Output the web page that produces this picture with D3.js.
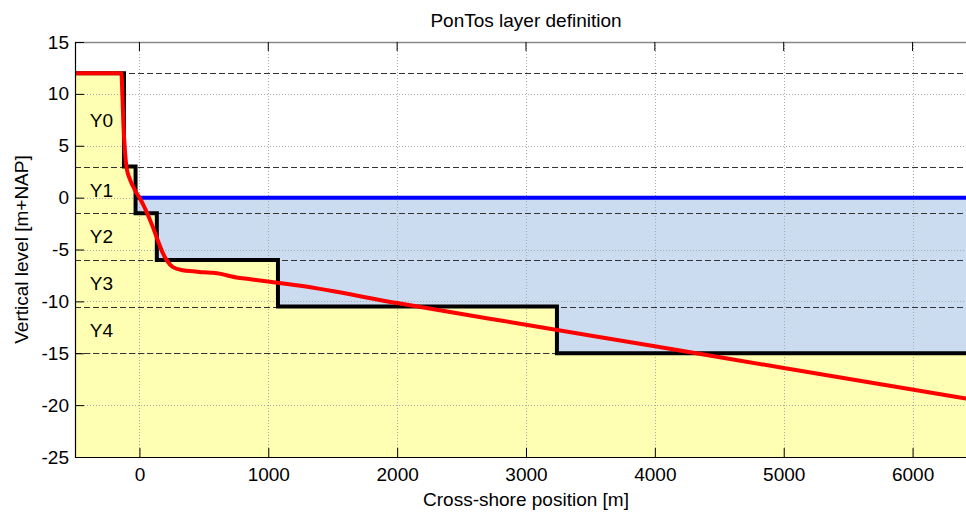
<!DOCTYPE html>
<html>
<head>
<meta charset="utf-8">
<script src="https://cdn.jsdelivr.net/npm/d3@7"></script>
<style>
  html, body { margin: 0; padding: 0; background: #fff; }
  svg text { font-family: Arial, "Liberation Sans", Helvetica, sans-serif; fill: #000; }
</style>
</head>
<body>
<svg id="chart" width="966" height="512"></svg>
<script>
// Bed profile (cross-shore position [m], level [m+NAP])
const profileX = [-500, -140, -132, -124, -115, -101, -75, -50, -23, 0, 30, 60, 100, 142, 180, 210, 260, 337, 420, 500, 570, 630, 700, 753, 850, 1011, 1250, 2000, 3000, 4000, 5000, 6500];
const profileY = [12, 12, 9.8, 7.0, 5.0, 3.0, 1.8, 1.1, 0.44, 0, -0.7, -1.5, -2.7, -4.1, -5.3, -6.0, -6.7, -7.0, -7.1, -7.2, -7.25, -7.35, -7.55, -7.7, -7.85, -8.1, -8.5, -10.16, -12.25, -14.33, -16.42, -19.54];

// Layer schematisation: each layer starts at stepX and holds level stepLevel
const stepX = [-500, -120, -30, 135, 1075, 3240, 6500];
const stepLevel = [12, 3, -1.5, -6, -10.5, -15, -15];
const layerNames = ["Y0", "Y1", "Y2", "Y3", "Y4"];
const layerLabelX = -295;

// Still water level line
const waterLevel = 0;
const waterStartX = -20;

// Axes
const xDomain = [-500, 6500];
const yDomain = [-25, 15];
const xTicks = [0, 1000, 2000, 3000, 4000, 5000, 6000];
const yTicks = [-25, -20, -15, -10, -5, 0, 5, 10, 15];

const titleText = "PonTos layer definition";
const xLabelText = "Cross-shore position [m]";
const yLabelText = "Vertical level [m+NAP]";

const margin = { left: 75, top: 42, right: 977, bottom: 457 };
const svg = d3.select("#chart");

const x = d3.scaleLinear().domain(xDomain).range([margin.left, margin.right]);
const y = d3.scaleLinear().domain(yDomain).range([margin.bottom, margin.top]);

svg.append("defs").append("clipPath").attr("id", "plotclip")
  .append("rect")
  .attr("x", margin.left).attr("y", margin.top)
  .attr("width", margin.right - margin.left).attr("height", margin.bottom - margin.top);

const plot = svg.append("g").attr("clip-path", "url(#plotclip)");

const steps = stepX.map((d, i) => ({ x: d, level: stepLevel[i] }));
const profile = profileX.map((d, i) => ({ x: d, y: profileY[i] }));

// Sediment (yellow) below the layer top
plot.append("path")
  .datum(steps)
  .attr("fill", "#FFFFB3")
  .attr("d", d3.area().curve(d3.curveStepAfter)
    .x(d => x(d.x)).y0(y(yDomain[0])).y1(d => y(d.level)));

// Water (blue) between layer top and still water level
plot.append("path")
  .datum(steps)
  .attr("fill", "#CCDCF0")
  .attr("d", d3.area().curve(d3.curveStepAfter)
    .x(d => x(d.x)).y0(d => y(Math.min(d.level, waterLevel))).y1(y(waterLevel)));

// Dotted grid
const grid = plot.append("g")
  .attr("stroke", "#aaa").attr("stroke-width", 1).attr("stroke-dasharray", "1,2");
grid.selectAll("line.gx").data(xTicks).join("line")
  .attr("x1", d => Math.round(x(d)) + 0.5).attr("x2", d => Math.round(x(d)) + 0.5)
  .attr("y1", margin.top).attr("y2", margin.bottom);
grid.selectAll("line.gy").data(yTicks).join("line")
  .attr("y1", d => Math.round(y(d)) + 0.5).attr("y2", d => Math.round(y(d)) + 0.5)
  .attr("x1", margin.left).attr("x2", margin.right);

// Dashed layer boundaries
const levels = Array.from(new Set(stepLevel));
plot.append("g")
  .attr("stroke", "#333").attr("stroke-width", 1).attr("stroke-dasharray", "6,3")
  .selectAll("line").data(levels).join("line")
  .attr("x1", margin.left).attr("x2", margin.right)
  .attr("y1", d => Math.round(y(d)) + 0.5).attr("y2", d => Math.round(y(d)) + 0.5);

// Water line
plot.append("line")
  .attr("x1", x(waterStartX)).attr("x2", x(xDomain[1]))
  .attr("y1", y(waterLevel)).attr("y2", y(waterLevel))
  .attr("stroke", "#0000FF").attr("stroke-width", 4);

// Layer top (black step line)
plot.append("path")
  .datum(steps)
  .attr("fill", "none").attr("stroke", "#000").attr("stroke-width", 4)
  .attr("stroke-linejoin", "miter")
  .attr("d", d3.line().curve(d3.curveStepAfter).x(d => x(d.x)).y(d => y(d.level)));

// Bed profile (red)
plot.append("path")
  .datum(profile)
  .attr("fill", "none").attr("stroke", "#FF0000").attr("stroke-width", 4)
  .attr("stroke-linejoin", "round")
  .attr("d", d3.line().curve(d3.curveMonotoneX).x(d => x(d.x)).y(d => y(d.y)));

// Layer names
svg.append("g").selectAll("text").data(layerNames).join("text")
  .attr("x", x(layerLabelX))
  .attr("y", (d, i) => y((stepLevel[i] + stepLevel[i + 1]) / 2))
  .attr("dy", "0.36em")
  .attr("text-anchor", "middle")
  .attr("font-size", 19)
  .text(d => d);

// Axis frame
svg.append("line")
  .attr("x1", margin.left).attr("x2", margin.right)
  .attr("y1", margin.top + 0.5).attr("y2", margin.top + 0.5)
  .attr("stroke", "#888").attr("stroke-width", 1.5);

const xAxis = svg.append("g")
  .attr("transform", `translate(0,${margin.bottom})`)
  .call(d3.axisBottom(x).tickValues(xTicks).tickSizeInner(-9).tickSizeOuter(0).tickPadding(18).tickFormat(d3.format("d")));
const yAxis = svg.append("g")
  .attr("transform", `translate(${margin.left},0)`)
  .call(d3.axisLeft(y).tickValues(yTicks).tickSizeInner(-9).tickSizeOuter(0).tickPadding(6).tickFormat(d => String(d)));

// Top ticks
svg.append("g").selectAll("line").data(xTicks).join("line")
  .attr("x1", d => x(d)).attr("x2", d => x(d))
  .attr("y1", margin.top).attr("y2", margin.top + 9)
  .attr("stroke", "#000").attr("stroke-width", 1);

[xAxis, yAxis].forEach(a => {
  a.select(".domain").attr("stroke", "#000").attr("stroke-width", 1.2);
  a.selectAll(".tick line").attr("stroke", "#000");
  a.selectAll(".tick text").attr("font-size", 19).attr("font-family", "Arial, 'Liberation Sans', sans-serif").attr("fill", "#000");
});
xAxis.selectAll(".tick text").attr("dy", "0.71em").attr("y", 11);

// Titles
svg.append("text")
  .attr("x", (margin.left + margin.right) / 2).attr("y", 27)
  .attr("text-anchor", "middle").attr("font-size", 19)
  .text(titleText);
svg.append("text")
  .attr("x", (margin.left + margin.right) / 2).attr("y", 506)
  .attr("text-anchor", "middle").attr("font-size", 19)
  .text(xLabelText);
svg.append("text")
  .attr("transform", `translate(28,${(margin.top + margin.bottom) / 2}) rotate(-90)`)
  .attr("text-anchor", "middle").attr("font-size", 19)
  .text(yLabelText);
</script>
</body>
</html>
